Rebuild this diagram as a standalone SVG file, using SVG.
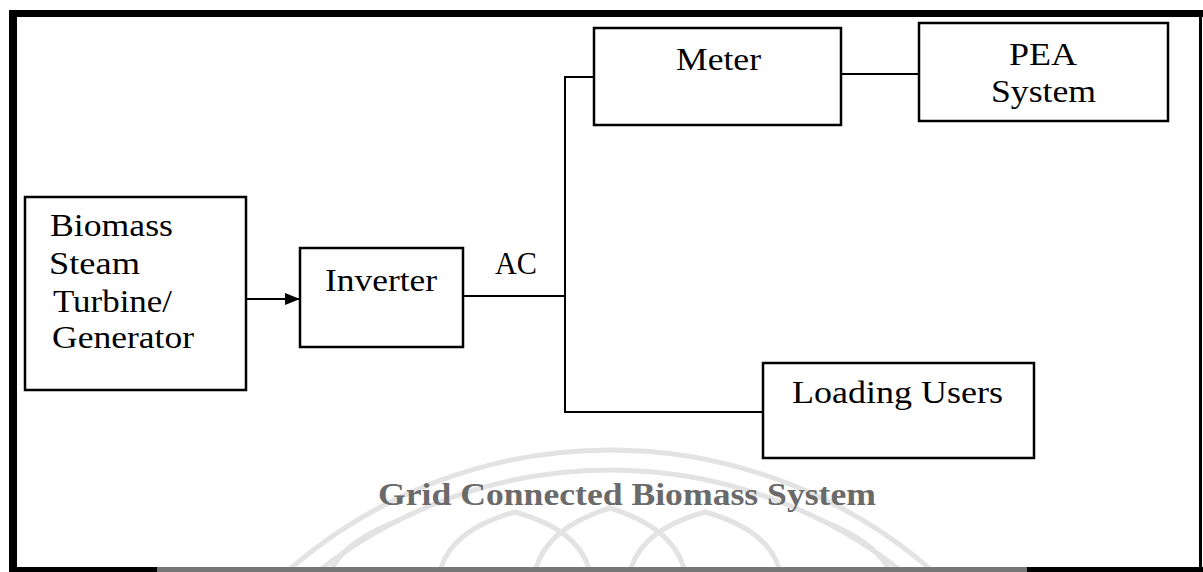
<svg xmlns="http://www.w3.org/2000/svg" width="1203" height="572" viewBox="0 0 1203 572">
  <defs>
    <marker id="arrowhead" viewBox="0 0 15 12" refX="15" refY="6" markerWidth="15" markerHeight="12" markerUnits="userSpaceOnUse" orient="auto">
      <path d="M0,0 L15,6 L0,12 Z" fill="#000"/>
    </marker>
    <clipPath id="frameClip">
      <rect x="17" y="17" width="1182" height="550"/>
    </clipPath>
  </defs>
  <style>
    .box { fill: none; stroke: #000; stroke-width: 2.5; }
    .wire { fill: none; stroke: #000; stroke-width: 2; }
    .lbl { font-family: "Liberation Serif", "Times New Roman", serif; font-size: 31px; fill: #000; }
    .caption { font-family: "Liberation Serif", "Times New Roman", serif; font-size: 31px; font-weight: bold; fill: #6a6a6a; }
    .seal { fill: none; stroke: #e3e3e3; stroke-width: 5; }
  </style>

  <rect x="0" y="0" width="1203" height="572" fill="#fff"/>

  <!-- faint background seal: double ring with lotus petals -->
  <g id="seal" clip-path="url(#frameClip)">
    <circle class="seal" cx="610" cy="940" r="490"/>
    <circle class="seal" cx="610" cy="940" r="470"/>
    <path class="seal" d="M330,572 Q345,540 400,520"/>
    <path class="seal" d="M440,572 Q450,530 515,512 Q580,530 590,572"/>
    <path class="seal" d="M535,572 Q545,528 610,508 Q675,528 685,572"/>
    <path class="seal" d="M630,572 Q640,530 705,512 Q770,530 780,572"/>
    <path class="seal" d="M820,520 Q875,540 890,572"/>
  </g>

  <!-- outer frame -->
  <g id="frame">
    <line x1="9" y1="13.5" x2="1203" y2="13.5" stroke="#000" stroke-width="7"/>
    <line x1="13" y1="10" x2="13" y2="572" stroke="#000" stroke-width="8"/>
    <line x1="1200.5" y1="10" x2="1200.5" y2="572" stroke="#000" stroke-width="3"/>
    <line x1="9" y1="569.5" x2="157" y2="569.5" stroke="#000" stroke-width="5"/>
    <line x1="157" y1="569.5" x2="1027" y2="569.5" stroke="#777" stroke-width="5"/>
    <line x1="1027" y1="569.5" x2="1203" y2="569.5" stroke="#000" stroke-width="5"/>
  </g>

  <!-- connectors -->
  <g id="connectors">
    <line class="wire" x1="246" y1="299" x2="300" y2="299" marker-end="url(#arrowhead)"/>
    <line class="wire" x1="463" y1="296" x2="566" y2="296"/>
    <path class="wire" d="M594,77 H565 V412 H763"/>
    <line class="wire" x1="841" y1="74" x2="919" y2="74"/>
  </g>

  <g id="biomass">
    <rect class="box" x="25" y="197" width="221" height="193"/>
    <text class="lbl" x="50" y="236" textLength="123" lengthAdjust="spacingAndGlyphs">Biomass</text>
    <text class="lbl" x="49" y="274" textLength="91" lengthAdjust="spacingAndGlyphs">Steam</text>
    <text class="lbl" x="53" y="312" textLength="119" lengthAdjust="spacingAndGlyphs">Turbine/</text>
    <text class="lbl" x="52" y="348" textLength="142" lengthAdjust="spacingAndGlyphs">Generator</text>
  </g>

  <g id="inverter">
    <rect class="box" x="300" y="248" width="163" height="99"/>
    <text class="lbl" x="325" y="291" textLength="112" lengthAdjust="spacingAndGlyphs">Inverter</text>
  </g>

  <g id="ac-label">
    <text class="lbl" x="495" y="274" textLength="42" lengthAdjust="spacingAndGlyphs">AC</text>
  </g>

  <g id="meter">
    <rect class="box" x="594" y="28" width="247" height="97"/>
    <text class="lbl" x="676" y="70" textLength="85" lengthAdjust="spacingAndGlyphs">Meter</text>
  </g>

  <g id="pea-system">
    <rect class="box" x="919" y="23" width="249" height="98"/>
    <text class="lbl" x="1009" y="65" textLength="68" lengthAdjust="spacingAndGlyphs">PEA</text>
    <text class="lbl" x="991" y="102" textLength="105" lengthAdjust="spacingAndGlyphs">System</text>
  </g>

  <g id="loading-users">
    <rect class="box" x="763" y="363" width="271" height="95"/>
    <text class="lbl" x="792" y="403" textLength="211" lengthAdjust="spacingAndGlyphs">Loading Users</text>
  </g>

  <g id="title">
    <text class="caption" x="378" y="505" textLength="498" lengthAdjust="spacingAndGlyphs">Grid Connected Biomass System</text>
  </g>
</svg>
